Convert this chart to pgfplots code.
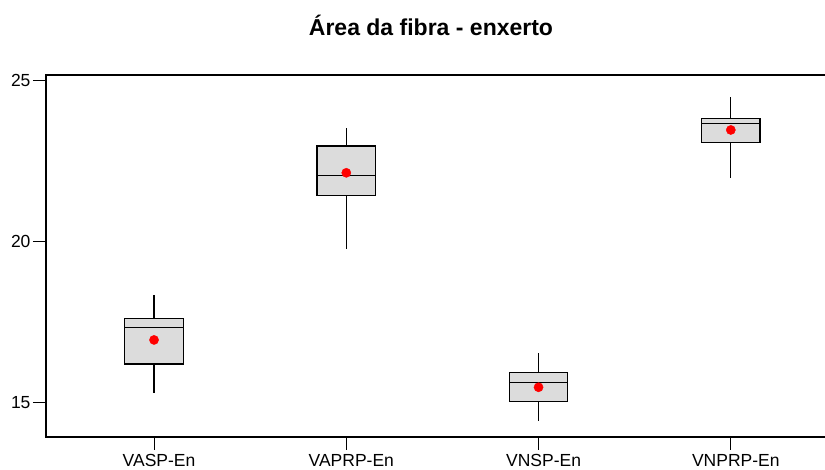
\documentclass[border=0pt]{standalone}
\usepackage{fontspec}
\setmainfont{Liberation Sans}
\usepackage{pgfplots}
\pgfplotsset{compat=1.18}
\usepgfplotslibrary{statistics}
\definecolor{boxgray}{HTML}{DCDCDC}
\begin{document}
\begin{tikzpicture}
\useasboundingbox (0pt,0pt) rectangle (825pt,470pt);
\node[anchor=base, font=\fontsize{23}{26}\selectfont\bfseries] at (431pt,434pt) {Área da fibra - enxerto};
\begin{axis}[
  at={(46pt,33pt)}, anchor=south west,
  scale only axis, width=800pt, height=362pt,
  xmin=0.438, xmax=4.5992,
  ymin=13.936, ymax=25.177,
  axis line style={draw=none},
  clip=false,
  tick pos=left, tick align=outside,
  major tick length=13pt,
  tick style={line width=1pt, black},
  xtick={1,2,3,4},
  xticklabels={VASP-En,VAPRP-En,VNSP-En,VNPRP-En},
  ytick={15,20,25},
  /pgf/number format/assume math mode=true,
  ticklabel style={font=\fontsize{17.5}{20}\selectfont},
  xticklabel style={yshift=-1pt, xshift=5pt},
  yticklabel style={xshift=1pt},
  boxplot/draw direction=y,
]
\draw[line width=1.2pt, black] (rel axis cs:1,1) -- (rel axis cs:0,1) -- (rel axis cs:0,0) -- (rel axis cs:1,0);
\addplot[draw=black, line width=1.2pt, fill=boxgray,
  boxplot prepared={lower whisker=15.29, lower quartile=16.20, median=17.33, upper quartile=17.62, upper whisker=18.35, draw position=1, box extend=0.304, whisker extend=0}] coordinates {};
\addplot[draw=black, line width=1.2pt, fill=boxgray,
  boxplot prepared={lower whisker=19.76, lower quartile=21.43, median=22.05, upper quartile=22.97, upper whisker=23.52, draw position=2, box extend=0.304, whisker extend=0}] coordinates {};
\addplot[draw=black, line width=1.2pt, fill=boxgray,
  boxplot prepared={lower whisker=14.43, lower quartile=15.05, median=15.64, upper quartile=15.93, upper whisker=16.55, draw position=3, box extend=0.304, whisker extend=0}] coordinates {};
\addplot[draw=black, line width=1.2pt, fill=boxgray,
  boxplot prepared={lower whisker=21.97, lower quartile=23.09, median=23.66, upper quartile=23.82, upper whisker=24.50, draw position=4, box extend=0.304, whisker extend=0}] coordinates {};
\addplot[only marks, mark=*, mark size=4.6pt, red, mark options={draw=red, fill=red}]
  coordinates {(1,16.95) (2,22.14) (3,15.48) (4,23.47)};
\end{axis}
\end{tikzpicture}
\end{document}
